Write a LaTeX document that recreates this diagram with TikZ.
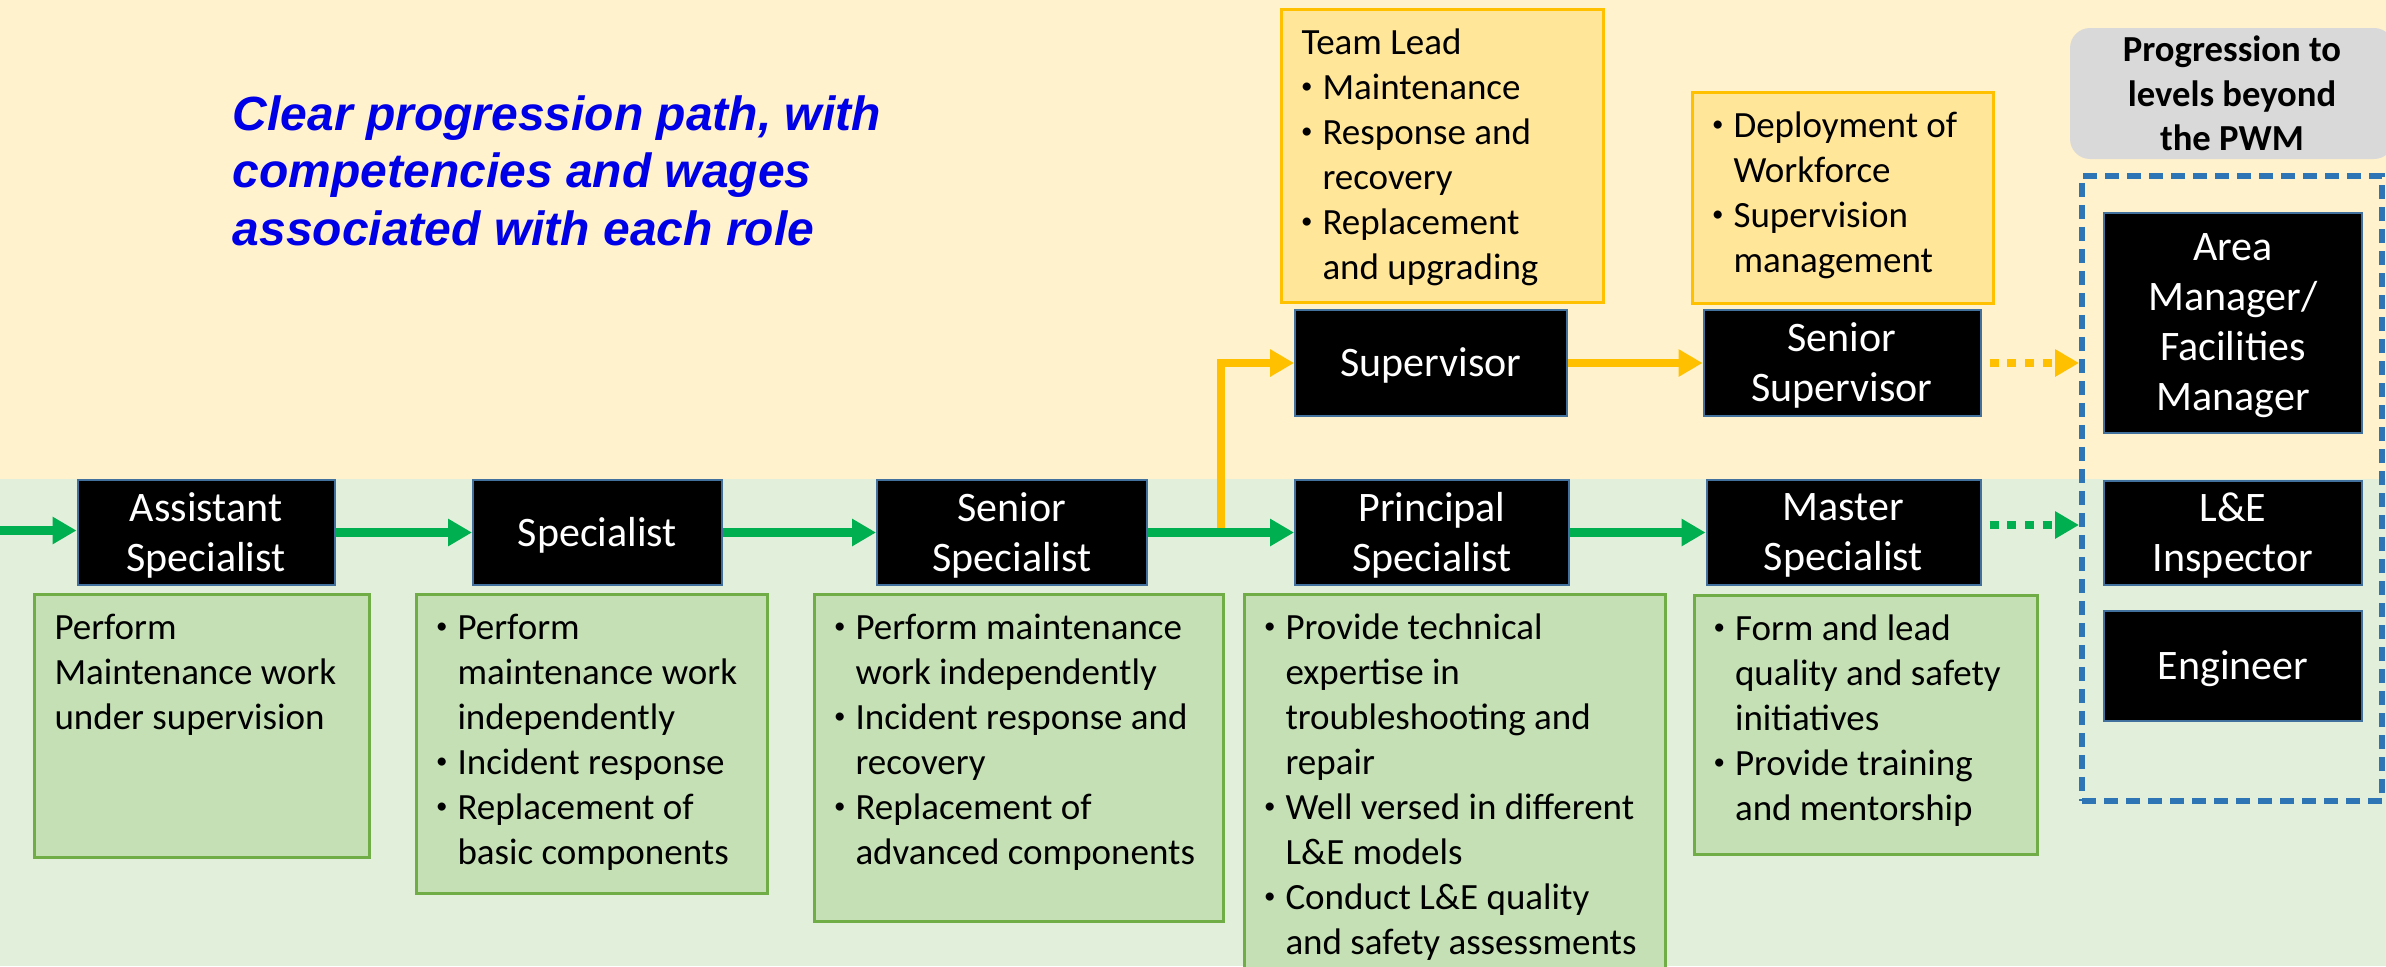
\documentclass[tikz,border=0pt]{standalone}
\usepackage{fontspec}
\setmainfont{Carlito}
\newfontfamily\headfont{Liberation Sans}
\usepackage{graphicx}
\usepackage{tikz}
\usetikzlibrary{arrows.meta, positioning, calc}
\usepackage{xcolor}
\newlength{\pxu}
\setlength{\pxu}{0.3pt}
\definecolor{bgtop}{HTML}{FFF2CC}
\definecolor{bgbot}{HTML}{E2EFDA}
\definecolor{roleedge}{HTML}{41719C}
\definecolor{dutyedge}{HTML}{70AD47}
\definecolor{dutyfill}{HTML}{C5E0B4}
\definecolor{leadedge}{HTML}{FFC000}
\definecolor{leadfill}{HTML}{FFE699}
\definecolor{flowgreen}{HTML}{00B050}
\definecolor{flowamber}{HTML}{FFC000}
\definecolor{pwmblue}{HTML}{2E75B6}
\definecolor{taggray}{HTML}{D9D9D9}
\definecolor{titleblue}{HTML}{0000E6}
\newcommand{\rolesize}{\fontsize{12.6}{15}\selectfont}
\newcommand{\dutysize}{\fontsize{11.1}{13.5}\selectfont}
\newcommand{\bul}{\leavevmode\llap{\raisebox{0.16em}{\scalebox{0.62}{\textbullet}}\hspace{10\pxu}}}
\newcommand{\duty}[3][41]{\parbox[t]{#2\pxu}{\raggedright\leftskip=#1\pxu\relax #3}}
\tikzset{%
	role/.style={
		draw=roleedge,
		fill=black,
		text=white,
		line width=2\pxu,
		inner sep=0,
		align=center,
		font=\rolesize,
		text depth=0.5pt,
		minimum height=105\pxu
	},
	duties/.style={
		draw=dutyedge,
		fill=dutyfill,
		line width=3\pxu,
		inner sep=0,
		anchor=north west,
		text height=45\pxu,
		font=\dutysize
	},
	leadbox/.style={
		duties,
		draw=leadedge,
		fill=leadfill
	},
	greenflow/.style={
		draw=flowgreen,
		line width=8.5\pxu,
		-{Triangle[length=7.2pt,width=7.8pt]}
	},
	amberflow/.style={greenflow, draw=flowamber},
	greendots/.style={greenflow, dash pattern=on 2.7pt off 2.6pt},
	amberdots/.style={amberflow, dash pattern=on 2.7pt off 2.6pt},
}
\begin{document}
\begin{tikzpicture}[x=0.3pt, y=-0.3pt]
	% Canvas and the two bands
	\useasboundingbox (0,0) rectangle (2386,966);
	\clip (0,0) rectangle (2386,966);
	\fill[bgtop] (0,0) rectangle (2386,479);
	\fill[bgbot] (0,479) rectangle (2386,966);
	
	% Heading
	\node[anchor=base west, inner sep=0, text=titleblue,
		font={\headfont\bfseries\itshape\fontsize{14.4}{17.25}\selectfont}] (headline) at (232,130)
		{\parbox[t]{720\pxu}{\raggedright Clear progression path, with\\competencies and wages\\associated with each role}};
	
	% Specialist track
	\node[role, minimum width=257\pxu] (asst) at (206,532.5) {Assistant\\Specialist};
	\node[role, minimum width=249\pxu] (spec) at (597.5,532.5) {Specialist};
	\node[role, minimum width=270\pxu] (senior) at (1012,532.5) {Senior\\Specialist};
	\node[role, minimum width=274\pxu] (principal) at (1432,532.5) {Principal\\Specialist};
	\node[role, minimum width=274\pxu] (master) at (1843.5,532.5) {Master\\Specialist};
	
	% Supervisory track
	\node[role, minimum width=272\pxu, minimum height=106\pxu] (sup) at (1431,363) {Supervisor};
	\node[role, minimum width=277\pxu, minimum height=106\pxu] (ssup) at (1842,363) {Senior\\Supervisor};
	
	% Duties under each role
	\node[duties, text depth=218\pxu] (asst-duties) at (33,593)
		{\duty[20]{335}{Perform\\Maintenance work\\under supervision}};
	\node[duties, text depth=254\pxu] (spec-duties) at (415,593)
		{\duty{351}{\bul Perform\\maintenance work\\independently\\\bul Incident response\\\bul Replacement of\\basic components}};
	\node[duties, text depth=282\pxu] (senior-duties) at (813,593)
		{\duty{409}{\bul Perform maintenance\\work independently\\\bul Incident response and\\recovery\\\bul Replacement of\\advanced components}};
	\node[duties, text depth=357\pxu] (principal-duties) at (1243,593)
		{\duty{421}{\bul Provide technical\\expertise in\\troubleshooting and\\repair\\\bul Well versed in different\\L\&E models\\\bul Conduct L\&E quality\\and safety assessments}};
	\node[duties, text depth=214\pxu] (master-duties) at (1692.5,594)
		{\duty{343}{\bul Form and lead\\quality and safety\\initiatives\\\bul Provide training\\and mentorship}};
	
	% Duties above the supervisors
	\node[leadbox, text depth=248\pxu] (sup-duties) at (1280,8)
		{\duty{321.5}{\hspace*{-21\pxu}Team Lead\\\bul Maintenance\\\bul Response and\\recovery\\\bul Replacement\\and upgrading}};
	\node[leadbox, text depth=166\pxu] (ssup-duties) at (1691,91)
		{\duty{301}{\bul Deployment of\\Workforce\\\bul Supervision\\management}};
	
	% Levels beyond the PWM
	\node[fill=taggray, rounded corners=20\pxu, inner sep=0, align=center,
		minimum width=324\pxu, minimum height=131\pxu,
		font={\bfseries\fontsize{11}{13.35}\selectfont}] (beyondtag) at (2232,93.5)
		{Progression to\\levels beyond\\the PWM};
	\node[draw=pwmblue, line width=6\pxu, dash pattern=on 4.2pt off 2.4pt, inner sep=0,
		minimum width=300\pxu, minimum height=625\pxu] (pwm) at (2232,488.5) {};
	\node[role, minimum width=258\pxu, minimum height=220\pxu] (areamgr) at (2233,323) {Area\\Manager/\\Facilities\\Manager};
	\node[role, minimum width=258\pxu, minimum height=104\pxu] (inspector) at (2233,532.5) {L\&E\\Inspector};
	\node[role, minimum width=258\pxu, minimum height=110\pxu] (engineer) at (2233,666) {Engineer};
	
	% Branch up to the supervisors
	\coordinate (fork) at ($(senior.east)!0.5!(principal.west)$);
	\draw[amberflow] (fork) |- (sup);
	\draw[amberflow] (sup) -- (ssup);
	\coordinate (ssup-out) at ([xshift=8\pxu]ssup.east);
	\draw[amberdots] (ssup-out) -- (ssup-out -| pwm.west);
	
	% Main path
	\coordinate (entry) at (0,530.5);
	\draw[greenflow] (entry) -- (entry -| asst.west);
	\draw[greenflow] (asst) -- (spec);
	\draw[greenflow] (spec) -- (senior);
	\draw[greenflow] (senior) -- (principal);
	\draw[greenflow] (principal) -- (master);
	\coordinate (master-out) at ([shift={(8,-7.5)}]master.east);
	\draw[greendots] (master-out) -- (master-out -| pwm.west);
\end{tikzpicture}
\end{document}
